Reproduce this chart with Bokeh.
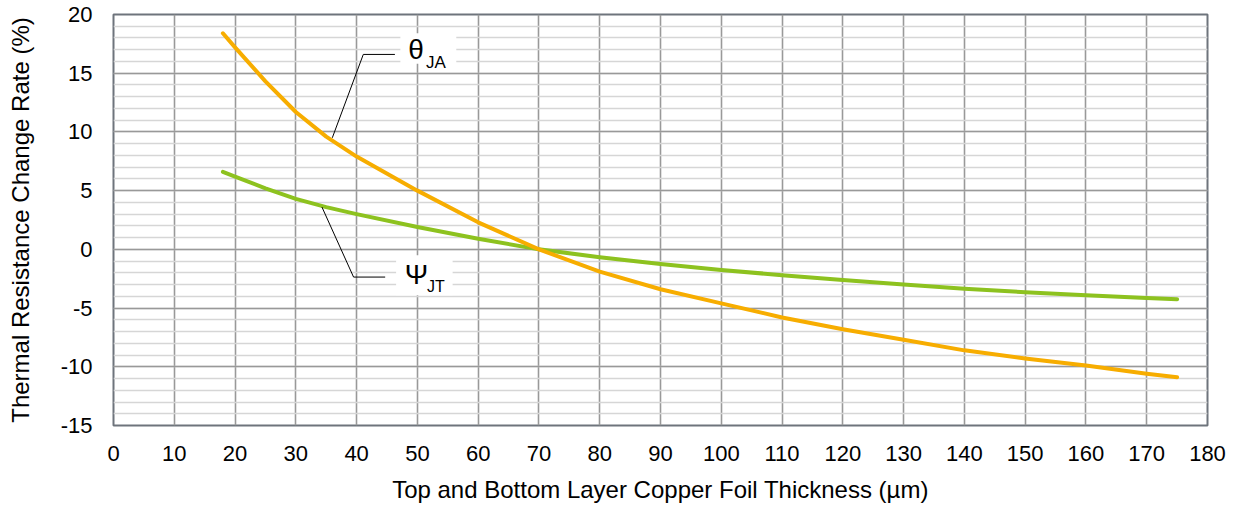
from bokeh.plotting import figure
from bokeh.models import SingleIntervalTicker, BoxAnnotation, Label, ColumnDataSource
from bokeh.embed import file_html
from bokeh.resources import INLINE

# ---- data ----
thickness = [18, 20, 25, 30, 35, 40, 50, 60, 70, 80, 90, 100, 110, 120, 130, 140, 150, 160, 170, 175]
theta_ja = [18.4, 17.2, 14.3, 11.7, 9.6, 7.9, 5.0, 2.3, 0.0, -1.9, -3.4, -4.6, -5.8, -6.8, -7.7, -8.6, -9.3, -9.9, -10.6, -10.9]
psi_jt = [6.6, 6.2, 5.2, 4.3, 3.6, 3.0, 1.9, 0.9, 0.0, -0.68, -1.25, -1.75, -2.2, -2.6, -3.0, -3.35, -3.65, -3.9, -4.15, -4.25]
x_ticks = list(range(0, 181, 10))
y_ticks = list(range(-15, 21, 5))

FONT = "Liberation Sans"
ORANGE = "#F7AD00"
GREEN = "#8DC21F"

W, H = 1230, 505
p = figure(width=W, height=H, x_range=(0, 180), y_range=(-15, 20),
           output_backend="svg", toolbar_location=None,
           min_border_left=113, min_border_right=23, min_border_top=14, min_border_bottom=74)

p.xaxis.ticker = x_ticks
p.yaxis.ticker = y_ticks
p.yaxis.major_label_overrides = {t: str(t) for t in y_ticks}
p.xgrid.ticker = SingleIntervalTicker(interval=10, num_minor_ticks=1)
p.ygrid.ticker = SingleIntervalTicker(interval=5, num_minor_ticks=5)

p.xgrid.grid_line_color = "#999999"
p.xgrid.grid_line_width = 1.6
p.ygrid.grid_line_color = "#999999"
p.ygrid.grid_line_width = 1.6
p.ygrid.minor_grid_line_color = "#d6d6d6"
p.ygrid.minor_grid_line_width = 1.6

p.outline_line_color = "#6e747c"
p.outline_line_width = 2

for ax in (p.xaxis, p.yaxis):
    ax.axis_line_color = None
    ax.major_tick_line_color = None
    ax.minor_tick_line_color = None
    ax.major_tick_out = 0
    ax.minor_tick_out = 0
    ax.major_label_text_font = FONT
    ax.major_label_text_font_size = "22px"
    ax.major_label_text_color = "black"
    ax.axis_label_text_font = FONT
    ax.axis_label_text_font_size = "24px"
    ax.axis_label_text_font_style = "normal"
    ax.axis_label_text_color = "black"

p.xaxis.major_label_standoff = 20
p.yaxis.major_label_standoff = 21
p.xaxis.axis_label = "Top and Bottom Layer Copper Foil Thickness (µm)"
p.yaxis.axis_label = "Thermal Resistance Change Rate (%)"
p.xaxis.axis_label_standoff = 12
p.yaxis.axis_label_standoff = 24

src = ColumnDataSource(dict(x=thickness, theta=theta_ja, psi=psi_jt))
p.line("x", "psi", source=src, line_color=GREEN, line_width=4, line_join="round", line_cap="round")
p.line("x", "theta", source=src, line_color=ORANGE, line_width=4, line_join="round", line_cap="round")

# ---- annotations (leader lines + labels) ----
p.line([36.0, 41.1, 46.3], [9.5, 16.6, 16.6], line_color="black", line_width=1)
p.line([34.3, 39.5, 44.7], [3.6, -2.36, -2.36], line_color="black", line_width=1)

p.add_layout(BoxAnnotation(left=47.2, right=56.4, bottom=15.8, top=18.4,
                           fill_color="white", fill_alpha=1, line_color=None))
p.add_layout(BoxAnnotation(left=46.5, right=55.8, bottom=-3.9, top=-0.5,
                           fill_color="white", fill_alpha=1, line_color=None))

p.add_layout(Label(x=48.5, y=17.0, text="θ", text_font=FONT, text_font_size="28px",
                   text_baseline="middle", text_align="left", text_color="black"))
p.add_layout(Label(x=51.4, y=15.9, text="JA", text_font=FONT, text_font_size="17px",
                   text_baseline="middle", text_align="left", text_color="black"))
p.add_layout(Label(x=47.9, y=-2.1, text="Ψ", text_font=FONT, text_font_size="28px",
                   text_baseline="middle", text_align="left", text_color="black"))
p.add_layout(Label(x=51.6, y=-3.2, text="JT", text_font=FONT, text_font_size="16px",
                   text_baseline="middle", text_align="left", text_color="black"))

open("out.html", "w").write(file_html(p, INLINE))
